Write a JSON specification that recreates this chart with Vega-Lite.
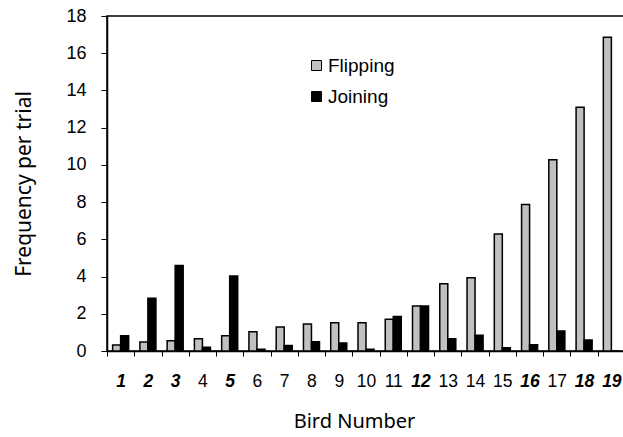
{
  "$schema": "https://vega.github.io/schema/vega-lite/v6.json",
  "width": 518,
  "height": 335,
  "autosize": {"type": "none"},
  "padding": {"left": 107, "top": 16, "right": 0, "bottom": 86},
  "background": "white",
  "data": {
    "values": [
      {"bird": 1, "behavior": "Flipping", "freq": 0.32},
      {"bird": 1, "behavior": "Joining", "freq": 0.82},
      {"bird": 2, "behavior": "Flipping", "freq": 0.48},
      {"bird": 2, "behavior": "Joining", "freq": 2.83},
      {"bird": 3, "behavior": "Flipping", "freq": 0.55},
      {"bird": 3, "behavior": "Joining", "freq": 4.59},
      {"bird": 4, "behavior": "Flipping", "freq": 0.66},
      {"bird": 4, "behavior": "Joining", "freq": 0.2},
      {"bird": 5, "behavior": "Flipping", "freq": 0.82},
      {"bird": 5, "behavior": "Joining", "freq": 4.03},
      {"bird": 6, "behavior": "Flipping", "freq": 1.04},
      {"bird": 6, "behavior": "Joining", "freq": 0.1},
      {"bird": 7, "behavior": "Flipping", "freq": 1.29},
      {"bird": 7, "behavior": "Joining", "freq": 0.29},
      {"bird": 8, "behavior": "Flipping", "freq": 1.45},
      {"bird": 8, "behavior": "Joining", "freq": 0.5},
      {"bird": 9, "behavior": "Flipping", "freq": 1.52},
      {"bird": 9, "behavior": "Joining", "freq": 0.43},
      {"bird": 10, "behavior": "Flipping", "freq": 1.52},
      {"bird": 10, "behavior": "Joining", "freq": 0.1},
      {"bird": 11, "behavior": "Flipping", "freq": 1.7},
      {"bird": 11, "behavior": "Joining", "freq": 1.86},
      {"bird": 12, "behavior": "Flipping", "freq": 2.42},
      {"bird": 12, "behavior": "Joining", "freq": 2.42},
      {"bird": 13, "behavior": "Flipping", "freq": 3.62},
      {"bird": 13, "behavior": "Joining", "freq": 0.66},
      {"bird": 14, "behavior": "Flipping", "freq": 3.94},
      {"bird": 14, "behavior": "Joining", "freq": 0.84},
      {"bird": 15, "behavior": "Flipping", "freq": 6.29},
      {"bird": 15, "behavior": "Joining", "freq": 0.18},
      {"bird": 16, "behavior": "Flipping", "freq": 7.87},
      {"bird": 16, "behavior": "Joining", "freq": 0.34},
      {"bird": 17, "behavior": "Flipping", "freq": 10.28},
      {"bird": 17, "behavior": "Joining", "freq": 1.07},
      {"bird": 18, "behavior": "Flipping", "freq": 13.1},
      {"bird": 18, "behavior": "Joining", "freq": 0.59},
      {"bird": 19, "behavior": "Flipping", "freq": 16.86},
      {"bird": 19, "behavior": "Joining", "freq": 0}
    ]
  },
  "mark": {"type": "bar", "stroke": "black", "strokeWidth": 1.5},
  "encoding": {
    "x": {
      "field": "bird",
      "type": "ordinal",
      "scale": {"paddingInner": 0, "paddingOuter": 0},
      "axis": {
        "title": "Bird Number",
        "labelAngle": 0,
        "labelFont": "Liberation Sans",
        "labelFontSize": 17.5,
        "labelColor": "black",
        "labelPadding": 16,
        "labelFontWeight": {"condition": {"test": "indexof([1,2,3,5,12,16,18,19], datum.value) >= 0", "value": "bold"}, "value": "normal"},
        "labelFontStyle": {"condition": {"test": "indexof([1,2,3,5,12,16,18,19], datum.value) >= 0", "value": "italic"}, "value": "normal"},
        "tickBand": "extent",
        "tickSize": 5,
        "tickColor": "black",
        "tickWidth": 1,
        "domainColor": "black",
        "domainWidth": 1.5,
        "titleFont": "Noto Sans",
        "titleFontSize": 20,
        "titleFontWeight": "normal",
        "titleColor": "black",
        "titleX": 247,
        "titleY": 76,
        "titleBaseline": "alphabetic",
        "titleAnchor": "middle",
        "titleAlign": "center"
      }
    },
    "xOffset": {
      "field": "behavior",
      "type": "nominal",
      "scale": {"paddingOuter": 0.7, "paddingInner": 0}
    },
    "y": {
      "field": "freq",
      "type": "quantitative",
      "scale": {"domain": [0, 18], "nice": false},
      "axis": {
        "title": "Frequency per trial",
        "values": [0, 2, 4, 6, 8, 10, 12, 14, 16, 18],
        "grid": false,
        "labelFont": "Liberation Sans",
        "labelFontSize": 18,
        "labelColor": "black",
        "labelPadding": 15,
        "tickSize": 6,
        "tickColor": "black",
        "domainColor": "black",
        "domainWidth": 1.5,
        "titleFont": "Noto Sans",
        "titleFontSize": 21,
        "titleFontWeight": "normal",
        "titleColor": "black",
        "titleX": -77,
        "titleY": 167.5,
        "titleBaseline": "alphabetic",
        "titleAngle": -90,
        "titleAlign": "center"
      }
    },
    "color": {
      "field": "behavior",
      "type": "nominal",
      "scale": {"domain": ["Flipping", "Joining"], "range": ["#c0c0c0", "#000000"]},
      "legend": {
        "title": null,
        "orient": "none",
        "legendX": 200,
        "legendY": 40,
        "padding": 0,
        "symbolType": "square",
        "symbolSize": 100,
        "symbolStrokeColor": "black",
        "symbolStrokeWidth": 1,
        "labelFont": "Liberation Sans",
        "labelFontSize": 19,
        "labelColor": "black",
        "labelOffset": 2,
        "rowPadding": 11
      }
    }
  },
  "config": {
    "view": {"stroke": "black", "strokeWidth": 1.5}
  }
}
